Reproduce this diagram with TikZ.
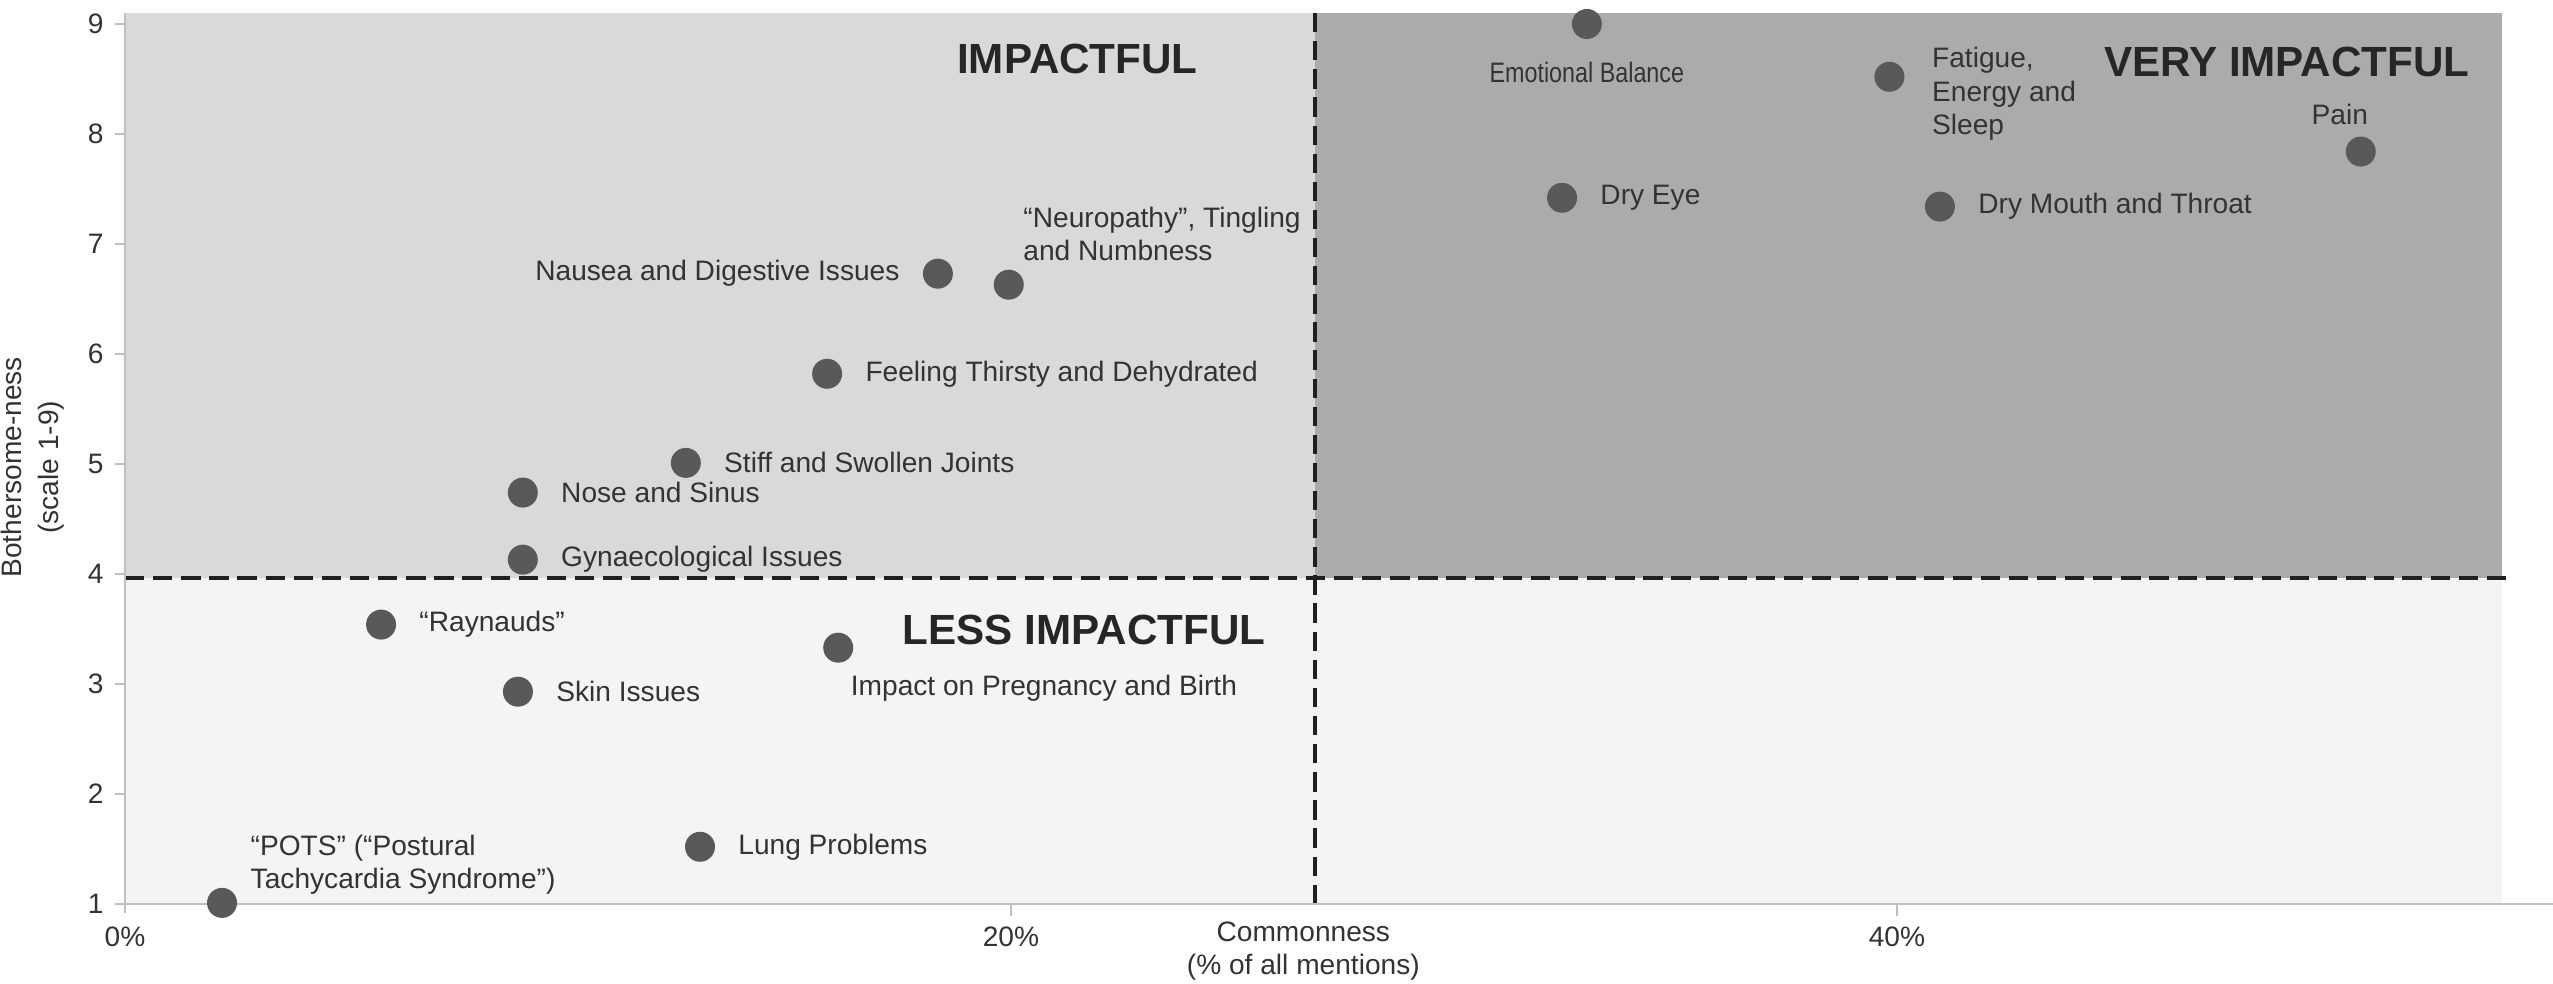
\documentclass[tikz,border=0pt]{standalone}
\usepackage{fontspec}
\setmainfont{Liberation Sans}
\usetikzlibrary{positioning}

\definecolor{impfill}{HTML}{D9D9D9}
\definecolor{veryfill}{HTML}{ABABAB}
\definecolor{lessfill}{HTML}{F4F4F4}
\definecolor{dotgray}{HTML}{595959}
\definecolor{axisgray}{HTML}{BFBFBF}
\definecolor{txtgray}{HTML}{333333}
\definecolor{quadtxt}{HTML}{262626}
\definecolor{dashcol}{HTML}{1F1F1F}

\begin{document}
\begin{tikzpicture}[x=0.443cm, y=1.1cm,
	dot/.style={circle, fill=dotgray, inner sep=0pt, minimum size=0.3cm},
	lbl/.style={inner sep=0pt, text=txtgray, font=\fontsize{8pt}{9.5pt}\selectfont},
	quad/.style={inner sep=0pt, text=quadtxt, font=\fontsize{12pt}{14pt}\selectfont\bfseries},
	divider/.style={draw=dashcol, line width=1.1pt, dash pattern=on 5.5pt off 2.5pt},
	axis/.style={draw=axisgray, line width=0.8pt},
	node distance=0.22cm]
	\useasboundingbox (-2.822,0.2727) rectangle (54.81,9.218);

	% quadrants
	\fill [lessfill] (0,1) rectangle (53.66,3.96);
	\fill [impfill] (0,3.96) rectangle (26.86,9.1);
	\fill [veryfill] (26.86,3.96) rectangle (53.66,9.1);
	\draw [divider] (26.86,1) -- (26.86,9.1);
	\draw [divider] (0,3.96) -- (53.84,3.96);

	% axes and ticks
	\draw [axis] (0,9.1) -- (0,0.92);
	\draw [axis] (-0.23,1) -- (54.81,1);
	\draw [axis] (-0.23,2) -- (0,2) (-0.23,3) -- (0,3) (-0.23,4) -- (0,4)
		(-0.23,5) -- (0,5) (-0.23,6) -- (0,6) (-0.23,7) -- (0,7)
		(-0.23,8) -- (0,8) (-0.23,9) -- (0,9);
	\draw [axis] (20,1) -- (20,0.89) (40,1) -- (40,0.89);
	\node [lbl, anchor=east] (y1) at (-0.47,1) {1};
	\node [lbl, anchor=east] (y2) at (-0.47,2) {2};
	\node [lbl, anchor=east] (y3) at (-0.47,3) {3};
	\node [lbl, anchor=east] (y4) at (-0.47,4) {4};
	\node [lbl, anchor=east] (y5) at (-0.47,5) {5};
	\node [lbl, anchor=east] (y6) at (-0.47,6) {6};
	\node [lbl, anchor=east] (y7) at (-0.47,7) {7};
	\node [lbl, anchor=east] (y8) at (-0.47,8) {8};
	\node [lbl, anchor=east] (y9) at (-0.47,9) {9};
	\node [lbl] (x0) at (0,0.70) {0\%};
	\node [lbl] (x20) at (20,0.70) {20\%};
	\node [lbl] (x40) at (40,0.70) {40\%};
	\node [lbl, align=center, font=\fontsize{8pt}{9.2pt}\selectfont] (xtitle) at (26.6,0.573)
		{Commonness\\(\% of all mentions)};
	\node [lbl, align=center, rotate=90, font=\fontsize{8pt}{10.5pt}\selectfont] (ytitle) at (-2.08,4.97)
		{Bothersome-ness\\(scale 1-9)};

	\node [quad] (impactful) at (21.5,8.68) {IMPACTFUL};
	\node [quad] (veryimpactful) at (48.8,8.65) {VERY IMPACTFUL};
	\node [quad] (lessimpactful) at (21.65,3.49) {LESS IMPACTFUL};

	% symptoms
	\node [dot] (emotional) at (33.0,9.0) {};
	\node [dot] (fatigue) at (39.83,8.52) {};
	\node [dot] (pain) at (50.47,7.84) {};
	\node [dot] (dryeye) at (32.44,7.42) {};
	\node [dot] (drymouth) at (40.97,7.34) {};
	\node [dot] (neuro) at (19.95,6.63) {};
	\node [dot] (nausea) at (18.35,6.73) {};
	\node [dot] (thirsty) at (15.85,5.82) {};
	\node [dot] (joints) at (12.66,5.01) {};
	\node [dot] (nose) at (8.98,4.74) {};
	\node [dot] (gynae) at (8.98,4.13) {};
	\node [dot] (raynauds) at (5.78,3.54) {};
	\node [dot] (skin) at (8.87,2.93) {};
	\node [dot] (pregnancy) at (16.1,3.33) {};
	\node [dot] (lung) at (12.98,1.52) {};
	\node [dot] (pots) at (2.19,1.01) {};

	\node [lbl, below=of emotional] (emotionaltxt) {\scalebox{0.83}[1]{Emotional Balance}};
	\node [lbl, anchor=west, align=left] (fatiguetxt) at ([xshift=0.42cm, yshift=-0.17cm]fatigue)
		{Fatigue,\\Energy and\\Sleep};
	\node [lbl, above=0.1cm of pain, xshift=-0.21cm] (paintxt) {Pain};
	\node [lbl, right=of dryeye] (dryeyetxt) {Dry Eye};
	\node [lbl, right=of drymouth] (drymouthtxt) {Dry Mouth and Throat};
	\node [lbl, anchor=west, align=left] (neurotxt) at ([xshift=0.14cm, yshift=0.51cm]neuro)
		{“Neuropathy”, Tingling\\and Numbness};
	\node [lbl, left=of nausea] (nauseatxt) {Nausea and Digestive Issues};
	\node [lbl, right=of thirsty] (thirstytxt) {Feeling Thirsty and Dehydrated};
	\node [lbl, right=of joints] (jointstxt) {Stiff and Swollen Joints};
	\node [lbl, right=of nose] (nosetxt) {Nose and Sinus};
	\node [lbl, right=of gynae] (gynaetxt) {Gynaecological Issues};
	\node [lbl, right=of raynauds] (raynaudstxt) {“Raynauds”};
	\node [lbl, right=of skin] (skintxt) {Skin Issues};
	\node [lbl, anchor=north west] (pregnancytxt) at ([xshift=0.12cm, yshift=-0.27cm]pregnancy)
		{Impact on Pregnancy and Birth};
	\node [lbl, right=of lung] (lungtxt) {Lung Problems};
	\node [lbl, anchor=west, align=left] (potstxt) at ([xshift=0.28cm, yshift=0.38cm]pots)
		{“POTS” (“Postural\\Tachycardia Syndrome”)};
\end{tikzpicture}
\end{document}
